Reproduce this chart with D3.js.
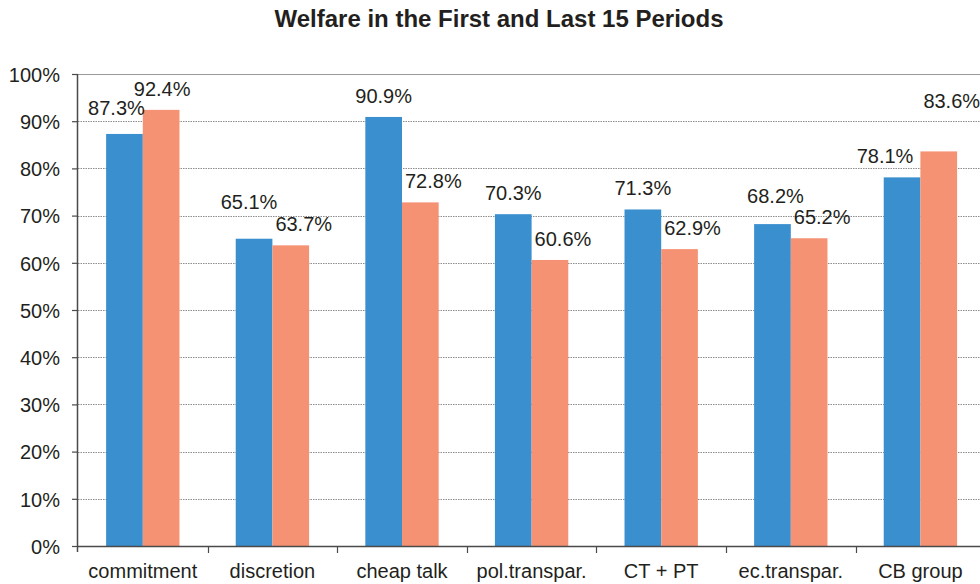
<!DOCTYPE html>
<html><head><meta charset="utf-8">
<script src="https://cdn.jsdelivr.net/npm/d3@7"></script>
<style>
html,body{margin:0;padding:0;background:#fff;}
svg{display:block;font-family:"Liberation Sans",Arial,sans-serif;}
</style></head>
<body><svg id="chart" width="980" height="584"></svg>
<script>
const categories = ["commitment","discretion","cheap talk","pol.transpar.","CT + PT","ec.transpar.","CB group"];
const firstPeriods = [0.873,0.651,0.909,0.703,0.713,0.682,0.781];
const lastPeriods  = [0.924,0.637,0.728,0.606,0.629,0.652,0.836];
const yTicks = [0,0.1,0.2,0.3,0.4,0.5,0.6,0.7,0.8,0.9,1.0];
const title = "Welfare in the First and Last 15 Periods";

// label nudges (layout only, px)
const labelNudgeFirst = [[-8,-5],[-5,-16],[0,0],[0,0],[0,0],[3,-7],[-17,0]];
const labelNudgeLast  = [[1,0],[13,0],[13,0],[13,0],[13,0],[13,0],[13,-29]];

const svg = d3.select("#chart");
const mLeft = 78, mTop = 74, mBottom = 546, bandW = 129.6;
const x = d3.scaleBand().domain(categories).range([mLeft, mLeft + bandW*categories.length]).padding(0);
const y = d3.scaleLinear().domain([0,1]).range([mBottom, mTop]);
const series = [
  {key:"first", values:firstPeriods, color:"#3A8FCF", nudge:labelNudgeFirst},
  {key:"last", values:lastPeriods, color:"#F69274", nudge:labelNudgeLast}
];
const bw = x.bandwidth();
const x1 = d3.scaleBand().domain(series.map(s=>s.key)).range([bw*0.217, bw*0.783]).padding(0);

const textColor = "#231f20";

// title
svg.append("text").attr("x",499).attr("y",27).attr("text-anchor","middle")
  .attr("font-size",24).attr("font-weight","bold").attr("fill",textColor).text(title);

// gridlines
svg.append("g").selectAll("line").data(yTicks.filter(t=>t>0 && t<1)).join("line")
  .attr("x1",mLeft).attr("x2",985).attr("y1",d=>Math.round(y(d))+0.5).attr("y2",d=>Math.round(y(d))+0.5)
  .attr("stroke","#8c8c8c").attr("stroke-width",1).attr("stroke-dasharray","1.5,1");
svg.append("line").attr("x1",mLeft).attr("x2",985).attr("y1",Math.round(y(1))+0.5).attr("y2",Math.round(y(1))+0.5)
  .attr("stroke","#9a9a9a").attr("stroke-width",1);

// bars
series.forEach((s)=>{
  svg.append("g").selectAll("rect").data(s.values).join("rect")
    .attr("x",(d,i)=>x(categories[i])+x1(s.key))
    .attr("width",x1.bandwidth())
    .attr("y",d=>y(d))
    .attr("height",d=>y(0)-y(d))
    .attr("fill",s.color);
});

// y axis
const yAxis = d3.axisLeft(y).tickValues(yTicks).tickFormat(d3.format(".0%")).tickSize(6).tickPadding(12);
const gy = svg.append("g").attr("transform",`translate(${mLeft},0)`).call(yAxis);
gy.select(".domain").attr("stroke","#4a4a4a").attr("stroke-width",1.5).attr("d",`M-0.5,${mTop}V${mBottom+6}`);
gy.selectAll(".tick line").attr("stroke","#4a4a4a").attr("stroke-width",1.2);
gy.selectAll(".tick text").attr("font-size",20).attr("fill",textColor).attr("font-family","Liberation Sans, Arial, sans-serif").attr("dy","0.36em");

// x axis
const xAxis = d3.axisBottom(x).tickSize(0).tickPadding(18);
const gx = svg.append("g").attr("transform",`translate(0,${mBottom})`).call(xAxis);
gx.select(".domain").attr("stroke","#4a4a4a").attr("stroke-width",1.5).attr("d",`M${mLeft},0.5H985`);
gx.selectAll(".tick text").attr("font-size",20).attr("fill",textColor).attr("font-family","Liberation Sans, Arial, sans-serif").attr("dy","0.71em");
gx.append("g").selectAll("line").data(categories.slice(1)).join("line")
  .attr("x1",d=>Math.round(x(d))+0.5).attr("x2",d=>Math.round(x(d))+0.5).attr("y1",0).attr("y2",7)
  .attr("stroke","#4a4a4a").attr("stroke-width",1.2);

// value labels
const fmt = d3.format(".1%");
series.forEach((s)=>{
  svg.append("g").selectAll("text").data(s.values).join("text")
    .attr("x",(d,i)=>x(categories[i])+x1(s.key)+x1.bandwidth()/2 + s.nudge[i][0])
    .attr("y",(d,i)=>y(d)-14 + s.nudge[i][1])
    .attr("text-anchor","middle").attr("font-size",20).attr("fill",textColor)
    .text(d=>fmt(d));
});
</script></body></html>
